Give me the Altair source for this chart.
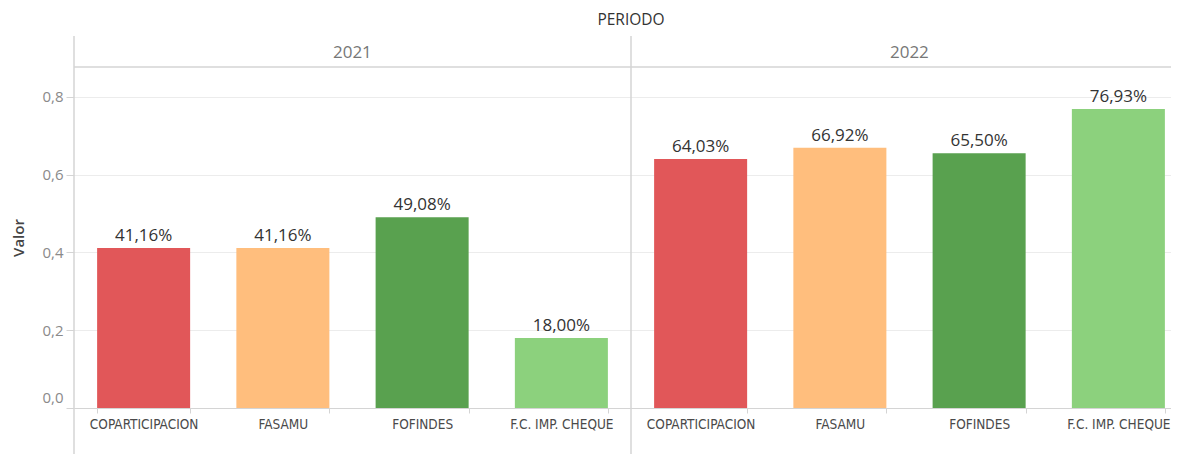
import altair as alt
import pandas as pd

periodos = ["2021", "2022"]
categorias = ["COPARTICIPACION", "FASAMU", "FOFINDES", "F.C. IMP. CHEQUE"]
valores_2021 = [0.4116, 0.4116, 0.4908, 0.1800]
valores_2022 = [0.6403, 0.6692, 0.6550, 0.7693]
colores = ["#e15759", "#ffbe7d", "#59a14f", "#8cd17d"]
y_ticks = [0.0, 0.2, 0.4, 0.6, 0.8]

valores = {"2021": valores_2021, "2022": valores_2022}
rows = []
for p in periodos:
    for c, v in zip(categorias, valores[p]):
        rows.append({"periodo": p, "categoria": c, "key": p + "|" + c, "valor": v})
df = pd.DataFrame(rows)
keys = list(df["key"])

hdr = pd.DataFrame({"periodo": periodos, "hkey": [p + "|" + categorias[1] for p in periodos]})

PANEL = 557
W = 1097
H = 341
LINE = "#d4d4d4"
FONT = "Open Sans"
NARROW = "Liberation Sans Narrow, DejaVu Sans Condensed, sans-serif"

xscale = alt.Scale(domain=keys, range=[0, 2 * PANEL], paddingInner=0.332, paddingOuter=0.166)
yscale = alt.Scale(domain=[0, 0.877], nice=False, zero=True)

base = alt.Chart(df)

bars = base.mark_bar().encode(
    x=alt.X("key:N", scale=xscale, sort=keys,
            axis=alt.Axis(title=None, labelExpr="split(datum.label, '|')[1]",
                          labelAngle=0, labelFont=NARROW,
                          labelFontSize=13.5, labelFontWeight="normal", labelColor="#4a4a4a",
                          labelPadding=4, tickBand="extent", tickColor=LINE, tickSize=5,
                          domainColor=LINE, grid=False)),
    y=alt.Y("valor:Q", scale=yscale,
            axis=alt.Axis(title="Valor", values=y_ticks,
                          labelExpr="replace(format(datum.value, '.1f'), '.', ',')",
                          labelFont=FONT, labelFontSize=15, labelColor="#8a8a8a",
                          labelPadding=3,
                          labelBaseline={"condition": {"test": "datum.value == 0", "value": "bottom"}, "value": "middle"},
                          labelOffset={"condition": {"test": "datum.value == 0", "value": -3}, "value": 0},
                          titleFont=FONT, titleFontSize=15, titleFontWeight=600, titleColor="#444",
                          titlePadding=15,
                          domain=False, tickColor=LINE, tickSize=8,
                          gridColor="#ececec", grid=True)),
    color=alt.Color("categoria:N", scale=alt.Scale(domain=categorias, range=colores), legend=None),
)

labels = base.transform_calculate(
    etiqueta="replace(format(datum.valor, '.2%'), '.', ',')"
).mark_text(baseline="alphabetic", dy=-7, font=FONT, fontSize=17, color="#333333").encode(
    x=alt.X("key:N", scale=xscale, sort=keys),
    y=alt.Y("valor:Q", scale=yscale),
    text="etiqueta:N",
)

headers = alt.Chart(hdr).mark_text(font=FONT, fontSize=17, color="#777777", dx=23, baseline="middle").encode(
    x=alt.X("hkey:N", scale=xscale, bandPosition=1),
    y=alt.value(-14),
    text="periodo:N",
)

titulo = alt.Chart(pd.DataFrame({"t": ["PERIODO"]})).mark_text(
    font=FONT, fontSize=15.5, color="#333333", baseline="middle"
).encode(x=alt.value(PANEL), y=alt.value(-47), text="t:N")

hline = alt.Chart(pd.DataFrame({"a": [0]})).mark_rule(color=LINE, strokeWidth=1.5).encode(
    x=alt.value(0), x2=alt.value(2 * PANEL), y=alt.value(0))
vline1 = alt.Chart(pd.DataFrame({"a": [0]})).mark_rule(color=LINE, strokeWidth=1.5).encode(
    x=alt.value(0), y=alt.value(-31), y2=alt.value(H + 60))
vline2 = alt.Chart(pd.DataFrame({"a": [0]})).mark_rule(color=LINE, strokeWidth=1.5).encode(
    x=alt.value(PANEL), y=alt.value(-31), y2=alt.value(H + 60))

chart = alt.layer(bars, labels, headers, titulo, hline, vline1, vline2).properties(
    width=W, height=H,
    autosize=alt.AutoSizeParams(type="none"),
    padding={"left": 66, "top": 59, "right": 0, "bottom": 46},
).configure_view(stroke=None)

chart.save("out.html", embed_options={"renderer": "svg", "actions": False})
